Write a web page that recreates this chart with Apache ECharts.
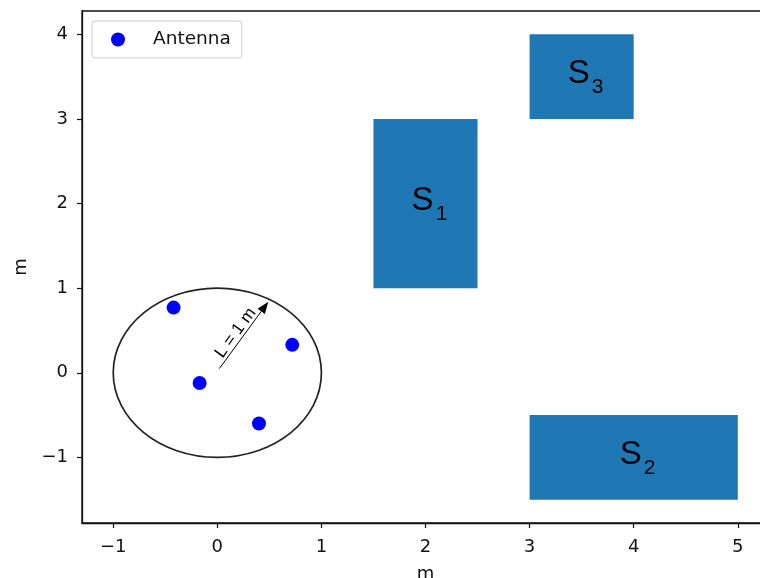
<!DOCTYPE html>
<html>
<head>
<meta charset="utf-8">
<script src="https://cdn.jsdelivr.net/npm/echarts@6/dist/echarts.min.js"></script>
<style>html,body{margin:0;padding:0;background:#fff;}#chart{width:760px;height:578px;}</style>
</head>
<body>
<div id="chart"></div>
<script>
// ---- data ----
const xTicks = [-1, 0, 1, 2, 3, 4, 5];
const yTicks = [-1, 0, 1, 2, 3, 4];
const antennaX = [-0.42, 0.72, -0.17, 0.40];
const antennaY = [0.77, 0.33, -0.12, -0.60];
const regionNames = ['1', '2', '3'];
const regionX0 = [1.5, 3.0, 3.0];
const regionX1 = [2.5, 5.0, 4.0];
const regionY0 = [1.0, -1.5, 3.0];
const regionY1 = [3.0, -0.5, 4.0];
const circleCenter = [0, 0];
const circleRadius = 1;
const arrowStart = [0.02, 0.05];
const arrowEnd = [0.49, 0.84];
const arrowLabel = 'L = 1 m';
const xLabel = 'm';
const yLabel = 'm';
const legendName = 'Antenna';

// ---- build ----
const fmt = v => (v < 0 ? '\u2212' + Math.abs(v) : String(v));
const tickFont = 'DejaVu Sans';
const antennaData = antennaX.map((x, i) => [x, antennaY[i]]);
const regionData = regionNames.map((n, i) => [regionX0[i], regionY0[i], regionX1[i], regionY1[i], i]);

const chart = echarts.init(document.getElementById('chart'), null, {renderer: 'canvas'});
chart.setOption({
  animation: false,
  backgroundColor: '#ffffff',
  grid: {left: 82, top: 11, right: -9, bottom: 55, show: true, borderColor: '#111', borderWidth: 1.3,
         containLabel: false, outerBoundsMode: 'none'},
  legend: {
    data: [{name: legendName, icon: 'circle'}],
    left: 92, top: 21, orient: 'vertical',
    itemWidth: 50, itemHeight: 14,
    padding: [9, 11, 9, 19],
    borderColor: '#cccccc', borderWidth: 1, borderRadius: 3,
    backgroundColor: '#ffffff',
    selectedMode: false,
    textStyle: {fontSize: 18.5, fontFamily: tickFont, color: '#111', padding: [0, 0, 0, 5]}
  },
  xAxis: {
    type: 'value', min: -1.3, max: 5.3,
    name: xLabel, nameLocation: 'middle', nameGap: 42,
    nameTextStyle: {fontSize: 18, fontFamily: tickFont, color: '#111'},
    axisLine: {show: true, onZero: false, lineStyle: {color: '#111', width: 1.3}},
    axisTick: {show: true, inside: false, length: 5, customValues: xTicks, lineStyle: {color: '#111', width: 1.2}},
    axisLabel: {show: true, customValues: xTicks, formatter: fmt, fontSize: 18, fontFamily: tickFont, color: '#111', margin: 15},
    splitLine: {show: false}
  },
  yAxis: {
    type: 'value', min: -1.775, max: 4.275,
    name: yLabel, nameLocation: 'middle', nameGap: 52,
    nameTextStyle: {fontSize: 18, fontFamily: tickFont, color: '#111'},
    axisLine: {show: true, onZero: false, lineStyle: {color: '#111', width: 1.3}},
    axisTick: {show: true, inside: false, length: 5, customValues: yTicks, lineStyle: {color: '#111', width: 1.2}},
    axisLabel: {show: true, customValues: yTicks, formatter: fmt, fontSize: 18, fontFamily: tickFont, color: '#111', margin: 14},
    splitLine: {show: false}
  },
  series: [
    {
      type: 'custom', name: 'regions', silent: true, z: 2,
      data: regionData,
      renderItem: function (params, api) {
        const tl = api.coord([api.value(0), api.value(3)]);
        const br = api.coord([api.value(2), api.value(1)]);
        const cx = (tl[0] + br[0]) / 2, cy = (tl[1] + br[1]) / 2;
        const name = regionNames[api.value(4)];
        return {
          type: 'group',
          children: [
            {type: 'rect', shape: {x: tl[0], y: tl[1], width: br[0] - tl[0], height: br[1] - tl[1]},
             style: {fill: '#1f77b4', stroke: null}},
            {type: 'text', x: cx - 3, y: cy - 3,
             style: {text: 'S', fontSize: 33, fontFamily: 'Liberation Sans', fill: '#000', align: 'center', verticalAlign: 'middle'}},
            {type: 'text', x: cx + 16, y: cy + 11,
             style: {text: name, fontSize: 21, fontFamily: 'Liberation Sans', fill: '#000', align: 'center', verticalAlign: 'middle'}}
          ]
        };
      }
    },
    {
      type: 'custom', name: 'circle', silent: true, z: 3,
      data: [[circleCenter[0], circleCenter[1], circleRadius]],
      renderItem: function (params, api) {
        const c = api.coord([api.value(0), api.value(1)]);
        const sz = api.size([api.value(2), api.value(2)]);
        return {type: 'ellipse', shape: {cx: c[0], cy: c[1], rx: sz[0], ry: sz[1]},
                style: {fill: 'none', stroke: '#222', lineWidth: 1.7}};
      }
    },
    {
      type: 'custom', name: 'arrow', silent: true, z: 4,
      data: [[arrowStart[0], arrowStart[1], arrowEnd[0], arrowEnd[1]]],
      renderItem: function (params, api) {
        const p0 = api.coord([api.value(0), api.value(1)]);
        const p1 = api.coord([api.value(2), api.value(3)]);
        const dx = p1[0] - p0[0], dy = p1[1] - p0[1];
        const len = Math.sqrt(dx * dx + dy * dy);
        const ux = dx / len, uy = dy / len;
        const px = -uy, py = ux;
        const hl = 12, hw = 4.5;
        const bx = p1[0] - ux * hl, by = p1[1] - uy * hl;
        const mx = (p0[0] + p1[0]) / 2, my = (p0[1] + p1[1]) / 2;
        let qx = px, qy = py;
        if (qx > 0) { qx = -qx; qy = -qy; }
        const tx = mx + qx * 8 - ux * 3, ty = my + qy * 8 - uy * 3;
        const rot = Math.atan2(-dy, dx);
        return {
          type: 'group',
          children: [
            {type: 'line', shape: {x1: p0[0], y1: p0[1], x2: bx, y2: by}, style: {stroke: '#000', lineWidth: 1}},
            {type: 'polygon', shape: {points: [[p1[0], p1[1]], [bx + px * hw, by + py * hw], [bx - px * hw, by - py * hw]]},
             style: {fill: '#000'}},
            {type: 'text', x: tx, y: ty, rotation: rot,
             style: {text: arrowLabel, fontSize: 17, fontFamily: 'Liberation Sans', fill: '#000', align: 'center', verticalAlign: 'middle'}}
          ]
        };
      }
    },
    {
      type: 'scatter', name: legendName, z: 5,
      data: antennaData,
      symbol: 'circle', symbolSize: 14,
      itemStyle: {color: '#0000ff', opacity: 1}
    }
  ]
});
</script>
</body>
</html>
